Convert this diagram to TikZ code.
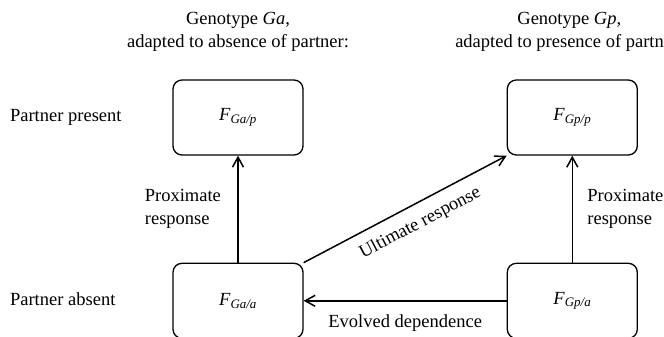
\documentclass[tikz,border=0pt]{standalone}
\usepackage{fontspec}
\setmainfont{Liberation Serif}
\usetikzlibrary{positioning,arrows.meta}

\begin{document}
\begin{tikzpicture}[x=1pt,y=-1pt,auto,node distance=107pt and 203pt,line width=1.5pt,
    >={Straight Barb[length=10pt,width=11pt]},
    font=\fontsize{18.5}{23}\selectfont,
    main node/.style={rectangle,rounded corners=9pt,draw,line width=1.3pt,minimum width=130pt,minimum height=75pt}]
            \useasboundingbox (0,0) rectangle (664,337);
            \clip (0,0) rectangle (664,337);

            \node[main node] (gap) at (238,117.5) {\textit{F}\textsubscript{\textit{Ga/p}}};
            \node[main node] (gaa) [below=of gap] {\textit{F}\textsubscript{\textit{Ga/a}}};
            \node[main node] (gpp) [right=of gap] {\textit{F}\textsubscript{\textit{Gp/p}}};
            \node[main node] (gpa) [below=of gpp] {\textit{F}\textsubscript{\textit{Gp/a}}};

            \node[align=center] (hga) [above=24pt of gap] {Genotype \textit{Ga},\\adapted to absence of partner:};
            \node[align=center,xshift=-3pt] (hgp) [above=24pt of gpp] {Genotype \textit{Gp},\\adapted to presence of partner:};
            \node[anchor=west] (pres) at (6,117.5) {Partner present};
            \node[anchor=west] (abs) at (6,299) {Partner absent};

          \path[->]
            (gaa) edge node [left=13pt,align=left] {Proximate\\response} (gap)
            (gpa) edge node [right=11pt,align=left] {Proximate\\response} (gpp)
            (gaa.north east) edge node [sloped,below=7pt,pos=0.53] {Ultimate response} (gpp.south west)
            (gpa) edge node [below=10pt] {Evolved dependence} (gaa)
            ;
        \end{tikzpicture}
\end{document}
